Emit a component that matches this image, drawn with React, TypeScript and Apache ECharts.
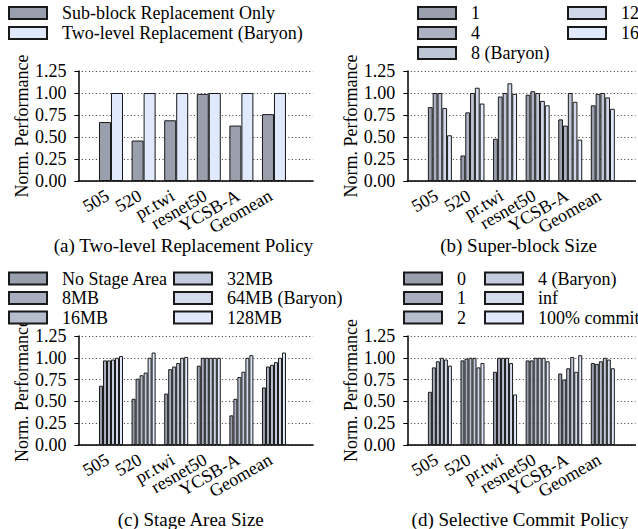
import React, { useEffect, useRef } from 'react';
import * as echarts from 'echarts';

const categories = ['505', '520', 'pr.twi', 'resnet50', 'YCSB-A', 'Geomean'];
const yAxisTitle = 'Norm. Performance';
const captions = [
  '(a) Two-level Replacement Policy',
  '(b) Super-block Size',
  '(c) Stage Area Size',
  '(d) Selective Commit Policy',
];

// (a) Two-level Replacement Policy
const aNames = ['Sub-block Replacement Only', 'Two-level Replacement (Baryon)'];
const aSubBlock = [0.67, 0.46, 0.69, 0.99, 0.63, 0.76];
const aTwoLevel = [1.0, 1.0, 1.0, 1.0, 1.0, 1.0];

// (b) Super-block Size
const bNames = ['1', '4', '8 (Baryon)', '12', '16'];
const b1 = [0.84, 0.29, 0.48, 0.98, 0.7, 0.86];
const b4 = [1.0, 0.78, 0.96, 1.02, 0.63, 0.99];
const b8 = [1.0, 1.0, 1.0, 1.0, 1.0, 1.0];
const b12 = [0.83, 1.06, 1.11, 0.91, 0.9, 0.95];
const b16 = [0.52, 0.88, 0.99, 0.86, 0.47, 0.82];

// (c) Stage Area Size
const cNames = ['No Stage Area', '8MB', '16MB', '32MB', '64MB (Baryon)', '128MB'];
const cNone = [0.68, 0.53, 0.59, 0.91, 0.34, 0.66];
const c8 = [0.97, 0.76, 0.87, 1.0, 0.53, 0.9];
const c16 = [0.97, 0.8, 0.9, 1.0, 0.78, 0.92];
const c32 = [0.98, 0.83, 0.94, 1.0, 0.84, 0.95];
const c64 = [1.0, 1.0, 1.0, 1.0, 1.0, 1.0];
const c128 = [1.02, 1.06, 1.01, 1.0, 1.03, 1.06];

// (d) Selective Commit Policy
const dNames = ['0', '1', '2', '4 (Baryon)', 'inf', '100% commit'];
const d0 = [0.61, 0.97, 0.84, 0.97, 0.82, 0.94];
const d1 = [0.89, 0.99, 1.0, 0.97, 0.75, 0.93];
const d2 = [0.96, 1.0, 1.0, 1.0, 0.88, 0.96];
const d4 = [1.0, 1.0, 1.0, 1.0, 1.01, 1.0];
const dInf = [0.98, 0.89, 0.94, 1.0, 0.84, 0.98];
const d100 = [0.91, 0.94, 0.58, 0.96, 1.03, 0.88];

const colors2 = ['#9a9fae', '#e1eafc'];
const colors5 = ['#9a9fae', '#acb2c2', '#bec5d5', '#cfd7e9', '#e1eafc'];
const colors6 = ['#9a9fae', '#a8aebe', '#b6bdcd', '#c5ccdd', '#d3dbec', '#e1eafc'];

const FONT = "'Liberation Serif', 'Times New Roman', serif";
const ZW = '\u200b';

export default function App() {
  const ref = useRef<HTMLDivElement>(null);
  useEffect(() => {
    const chart = echarts.init(ref.current!, null, { renderer: 'svg' });

    const panels = [
      { left: 78.4, top: 71, width: 234.7, height: 110, max: 6.2, barWidth: 12, names: aNames, colors: colors2, values: [aSubBlock, aTwoLevel] },
      { left: 407.3, top: 71, width: 228.9, height: 110, max: 6, barWidth: 4.8, names: bNames, colors: colors5, values: [b1, b4, b8, b12, b16] },
      { left: 78.4, top: 336, width: 234.7, height: 109, max: 6.2, barWidth: 4, names: cNames, colors: colors6, values: [cNone, c8, c16, c32, c64, c128] },
      { left: 407.3, top: 336, width: 228.9, height: 109, max: 6, barWidth: 4, names: dNames.map((n) => n + ZW), colors: colors6, values: [d0, d1, d2, d4, dInf, d100] },
    ];

    const grid = panels.map((p) => ({ left: p.left, top: p.top, width: p.width, height: p.height }));
    const xAxis = panels.map((p, i) => ({
      type: 'value',
      gridIndex: i,
      min: -1,
      max: p.max,
      interval: 1,
      axisLine: { show: true, onZero: false, lineStyle: { color: '#000', width: 1.5 } },
      axisTick: { show: false },
      splitLine: { show: false },
      axisLabel: {
        rotate: 30,
        margin: 11,
        padding: [0, 4, 0, 0],
        fontSize: 18,
        fontFamily: FONT,
        color: '#000',
        showMinLabel: true,
        showMaxLabel: true,
        formatter: (v: number) => (Number.isInteger(v) && v >= 0 && v < categories.length ? categories[v] : ''),
      },
    }));
    const yAxis = panels.map((p, i) => ({
      type: 'value',
      gridIndex: i,
      min: 0,
      max: 1.25,
      interval: 0.25,
      name: yAxisTitle,
      nameLocation: 'middle',
      nameGap: 46,
      nameTextStyle: { fontSize: 18, fontFamily: FONT, color: '#000' },
      axisLine: { show: true, onZero: false, lineStyle: { color: '#000', width: 1.5 } },
      axisTick: { show: true, length: 4, lineStyle: { color: '#000' } },
      axisLabel: { fontSize: 18, fontFamily: FONT, color: '#000', margin: 12, formatter: (v: number) => v.toFixed(2) },
      splitLine: { show: true, lineStyle: { type: [1, 2.5], color: '#333', width: 1 } },
    }));

    const series: any[] = [];
    panels.forEach((p, i) => {
      p.values.forEach((vals, k) => {
        series.push({
          type: 'bar',
          name: p.names[k],
          xAxisIndex: i,
          yAxisIndex: i,
          barWidth: p.barWidth,
          barGap: '0%',
          data: vals.map((v, idx) => [idx, v]),
          itemStyle: { color: p.colors[k], borderColor: '#1a1a1a', borderWidth: 1 },
        });
      });
    });

    const legendCommon = {
      orient: 'vertical',
      itemWidth: 38,
      itemHeight: 12,
      itemGap: 2,
      padding: 0,
      icon: 'rect',
      selectedMode: false,
      formatter: (n: string) => n.replace(ZW, ''),
      textStyle: { fontSize: 18, fontFamily: FONT, color: '#000', lineHeight: 15, padding: [0, 0, 0, 10] },
    };
    const dN = panels[3].names;
    const legend = [
      { ...legendCommon, left: 8, top: 4, data: aNames },
      { ...legendCommon, left: 417, top: 4, data: bNames.slice(0, 3) },
      { ...legendCommon, left: 567, top: 4, data: bNames.slice(3) },
      { ...legendCommon, left: 8, top: 269.5, itemGap: 1.5, data: cNames.slice(0, 3) },
      { ...legendCommon, left: 173, top: 269.5, itemGap: 1.5, data: cNames.slice(3) },
      { ...legendCommon, left: 403, top: 269.5, itemGap: 1.5, data: dN.slice(0, 3) },
      { ...legendCommon, left: 484, top: 269.5, itemGap: 1.5, data: dN.slice(3) },
    ];

    const captionPos = [
      [183.5, 245],
      [518.6, 245],
      [190.7, 519],
      [520, 519],
    ];
    const graphic = captions.map((t, i) => ({
      type: 'text',
      x: captionPos[i][0],
      y: captionPos[i][1],
      style: { text: t, fontSize: 19, fontFamily: FONT, fill: '#000', align: 'center', verticalAlign: 'middle' },
    }));

    chart.setOption({
      animation: false,
      textStyle: { fontFamily: FONT },
      grid,
      xAxis,
      yAxis,
      series,
      legend,
      graphic,
    });
    return () => chart.dispose();
  }, []);
  return <div ref={ref} style={{ position: 'absolute', left: 0, top: 0, width: 638, height: 529 }} />;
}
